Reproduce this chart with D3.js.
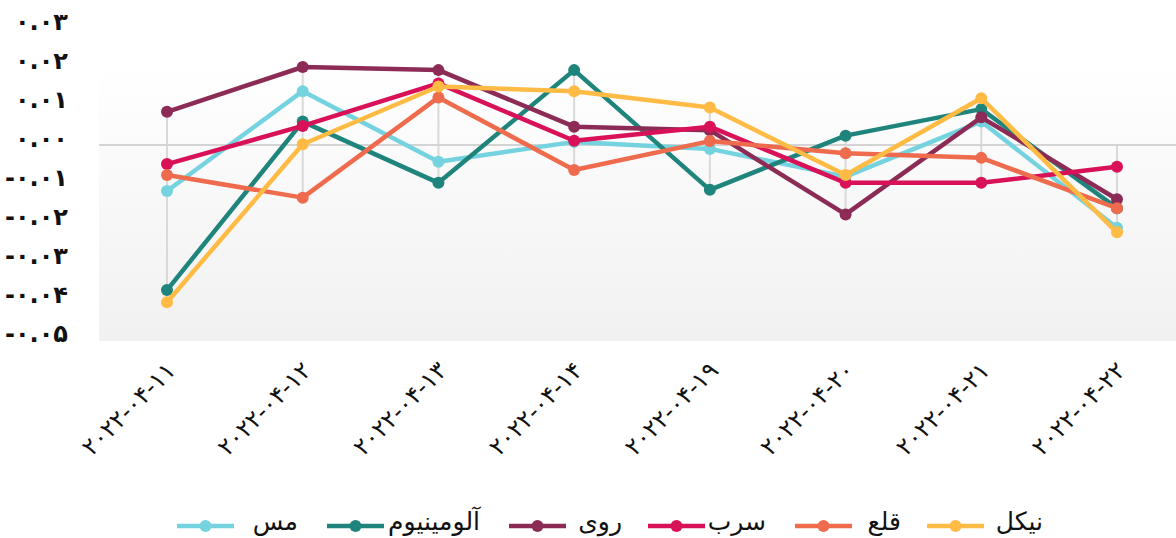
<!DOCTYPE html>
<html lang="fa">
<head>
    <meta charset="UTF-8">
    <title>Chart</title>
    <style>
        body { margin: 0; background: #fff; }
        svg { display: block; }
    </style>
</head>
<body>
    <script src="https://cdn.jsdelivr.net/npm/d3@7"></script>
    <svg id="mysvg" width="1176" height="538"></svg>
    <script>
        // data
        var dates = ["2022-04-11", "2022-04-12", "2022-04-13", "2022-04-14",
                     "2022-04-19", "2022-04-20", "2022-04-21", "2022-04-22"];
        var names = ["مس", "آلومینیوم", "روی", "سرب", "قلع", "نیکل"];
        var colors = ["#74d3df", "#1f857c", "#8c2b56", "#d81159", "#ee6b4e", "#ffbb43"];

        var mes      = [-0.0118, 0.0138, -0.0043, 0.0008, -0.0010, -0.0081, 0.0060, -0.0212];
        var aluminum = [-0.0372, 0.0060, -0.0097, 0.0192, -0.0115, 0.0024, 0.0092, -0.0162];
        var ruy      = [0.0085, 0.0200, 0.0192, 0.0047, 0.0038, -0.0178, 0.0071, -0.0139];
        var sorb     = [-0.0049, 0.0049, 0.0158, 0.0011, 0.0047, -0.0097, -0.0097, -0.0056];
        var qal      = [-0.0077, -0.0135, 0.0122, -0.0064, 0.0010, -0.0021, -0.0033, -0.0162];
        var nikel    = [-0.0403, 0.0002, 0.0150, 0.0138, 0.0096, -0.0077, 0.0120, -0.0224];
        var series = [mes, aluminum, ruy, sorb, qal, nikel];

        var yTicks = [0.03, 0.02, 0.01, 0, -0.01, -0.02, -0.03, -0.04, -0.05];

        var fa = function(s) {
            return String(s).replace(/\d/g, function(d) { return "۰۱۲۳۴۵۶۷۸۹"[d]; });
        };
        var font = "'DejaVu Sans', sans-serif";

        var svg = d3.select("#mysvg");
        var plotLeft = 99, plotRight = 1176, plotTop = 64, plotBottom = 341;

        var x = d3.scalePoint().domain(dates).range([167, 1117]);
        var y = d3.scaleLinear().domain([-0.05, 0.03]).range([340, 28]);

        // plot background
        var grad = svg.append("defs").append("linearGradient")
            .attr("id", "bg").attr("x1", 0).attr("y1", 0).attr("x2", 0).attr("y2", 1);
        grad.append("stop").attr("offset", "0%").attr("stop-color", "#ffffff");
        grad.append("stop").attr("offset", "100%").attr("stop-color", "#f1f1f1");
        svg.append("rect")
            .attr("x", plotLeft).attr("y", plotTop)
            .attr("width", plotRight - plotLeft).attr("height", plotBottom - plotTop)
            .attr("fill", "url(#bg)");

        // vertical drop lines per date
        var g1 = svg.append("g").attr("class", "drops");
        dates.forEach(function(d, i) {
            var vals = series.map(function(s) { return s[i]; });
            var hi = Math.max(0, d3.max(vals)), lo = Math.min(0, d3.min(vals));
            g1.append("line")
                .attr("x1", x(d)).attr("x2", x(d))
                .attr("y1", y(hi)).attr("y2", y(lo))
                .attr("stroke", "#d9d9d9").attr("stroke-width", 2);
        });

        // zero line
        svg.append("line")
            .attr("x1", plotLeft).attr("x2", plotRight)
            .attr("y1", y(0)).attr("y2", y(0))
            .attr("stroke", "#d4d4d4").attr("stroke-width", 2);

        // y labels
        var fmt = d3.format(".2f");
        svg.append("g").selectAll("text").data(yTicks).enter().append("text")
            .attr("x", 68).attr("y", function(d) { return y(d) - 5; })
            .attr("text-anchor", "end").attr("dominant-baseline", "middle")
            .attr("direction", "ltr")
            .style("font-family", font).style("font-size", "24px").style("font-weight", "bold")
            .attr("fill", "#111")
            .text(function(d) { return fa(fmt(d).replace("−", "-")); });

        // x labels
        svg.append("g").selectAll("text").data(dates).enter().append("text")
            .attr("transform", function(d) { return "translate(" + (x(d) + 5) + ",367) rotate(-45)"; })
            .attr("text-anchor", "end").attr("dominant-baseline", "middle")
            .attr("direction", "ltr")
            .style("font-family", font).style("font-size", "24px")
            .attr("fill", "#111")
            .text(function(d) { return fa(d); });

        // lines and markers
        var line = d3.line()
            .x(function(d, i) { return x(dates[i]); })
            .y(function(d) { return y(d); });

        series.forEach(function(s, k) {
            var g = svg.append("g");
            g.append("path").datum(s)
                .attr("d", line)
                .attr("fill", "none")
                .attr("stroke", colors[k]).attr("stroke-width", 4.5)
                .attr("stroke-linejoin", "round");
            g.selectAll("circle").data(s).enter().append("circle")
                .attr("cx", function(d, i) { return x(dates[i]); })
                .attr("cy", function(d) { return y(d); })
                .attr("r", 6)
                .attr("fill", colors[k]);
        });

        // legend: symbol left edge and text right edge per item
        var legSym = [177, 327, 509, 648, 795, 927];
        var legTextEnd = [298, 480, 622, 766, 901, 1043];
        var leg = svg.append("g");
        names.forEach(function(n, k) {
            var gx = legSym[k];
            leg.append("line")
                .attr("x1", gx).attr("x2", gx + 57)
                .attr("y1", 526).attr("y2", 526)
                .attr("stroke", colors[k]).attr("stroke-width", 4.5);
            leg.append("circle")
                .attr("cx", gx + 28.5).attr("cy", 526).attr("r", 6)
                .attr("fill", colors[k]);
            leg.append("text")
                .attr("x", legTextEnd[k]).attr("y", 523)
                .attr("text-anchor", "end").attr("dominant-baseline", "middle")
                .attr("direction", "ltr")
                .style("font-family", font).style("font-size", "25px")
                .attr("fill", "#111")
                .text(n);
        });
    </script>
</body>
</html>
